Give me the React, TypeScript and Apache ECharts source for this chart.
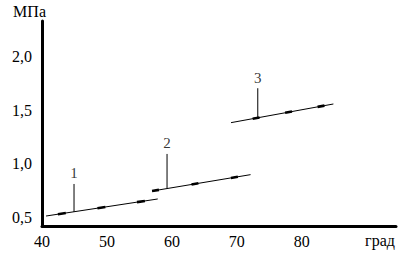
import React, { useEffect, useRef } from "react";
import * as echarts from "echarts";

// Tick labels
const xTicks = [40, 50, 60, 70, 80];
const yTicks = [0.5, 1.0, 1.5, 2.0];
const xUnit = "град";
const yUnit = "МПа";

// Curves (x in degrees, y in MPa)
const curve1 = [[40.62, 0.513], [57.82, 0.672]];
const curve2 = [[56.94, 0.746], [72.11, 0.899]];
const curve3 = [[69.1, 1.384], [84.86, 1.558]];

// Leader lines: [x, bottom y, top y]
const leaderNames = ["1", "2", "3"];
const leader1 = [[44.93, 0.551], [44.93, 0.812]];
const leader2 = [[59.25, 0.77], [59.25, 1.092]];
const leader3 = [[73.22, 1.425], [73.22, 1.705]];

const FONT = "Liberation Serif";

export default function App() {
  const ref = useRef<HTMLDivElement>(null);
  useEffect(() => {
    if (!ref.current) return;
    const chart = echarts.init(ref.current, undefined, { renderer: "svg" });
    const thin = (data: number[][]) => ({
      type: "line",
      data,
      symbol: "none",
      silent: true,
      lineStyle: { color: "#000", width: 1 },
      z: 2,
    });
    const thick = (data: number[][], dash: number[], offset: number) => ({
      type: "line",
      data,
      symbol: "none",
      silent: true,
      lineStyle: { color: "#000", width: 2.6, type: dash, dashOffset: offset, cap: "butt" },
      z: 3,
    });
    const txt = { fontFamily: FONT, fontSize: 16, color: "#000", fontWeight: "normal" };
    const leaders = [leader1, leader2, leader3];
    chart.setOption({
      animation: false,
      backgroundColor: "#fff",
      textStyle: { fontFamily: FONT },
      grid: { left: 42, right: 7, top: 21, bottom: 28 },
      xAxis: {
        type: "value",
        min: 40,
        max: 94.5,
        name: xUnit,
        nameLocation: "end",
        nameGap: -16,
        nameTextStyle: {
          ...txt,
          align: "center",
          verticalAlign: "top",
          padding: [6, 0, 0, 0],
        },
        axisLine: { show: true, lineStyle: { color: "#000", width: 3 } },
        axisTick: { show: false },
        splitLine: { show: false },
        axisLabel: {
          customValues: xTicks,
          ...txt,
          margin: 7,
        },
      },
      yAxis: {
        type: "value",
        min: 0.42,
        max: 2.332,
        name: yUnit,
        nameLocation: "end",
        nameGap: 2,
        nameTextStyle: {
          ...txt,
          align: "right",
          padding: [0, -4, 0, 0],
        },
        axisLine: { show: true, lineStyle: { color: "#000", width: 3 } },
        axisTick: { show: false },
        splitLine: { show: false },
        axisLabel: {
          customValues: yTicks,
          ...txt,
          margin: 10,
          formatter: (v: number) => v.toFixed(1).replace(".", ","),
        },
      },
      series: [
        thin(curve1),
        thin(curve2),
        thin(curve3),
        thick(curve1, [8, 32], 28),
        thick(curve2, [7, 33], 0),
        thick(curve3, [7, 26], 11),
        ...leaders.map((d) => thin(d)),
        {
          type: "scatter",
          symbolSize: 0,
          silent: true,
          data: leaders.map((d, i) => ({
            value: d[1],
            label: {
              show: true,
              position: "top",
              distance: 3,
              formatter: leaderNames[i],
              fontFamily: FONT,
              fontSize: 15,
              color: "#000",
            },
          })),
          z: 4,
        },
      ],
    });
    return () => chart.dispose();
  }, []);
  return <div ref={ref} style={{ width: 403, height: 254, position: "absolute", left: 0, top: 0 }} />;
}
